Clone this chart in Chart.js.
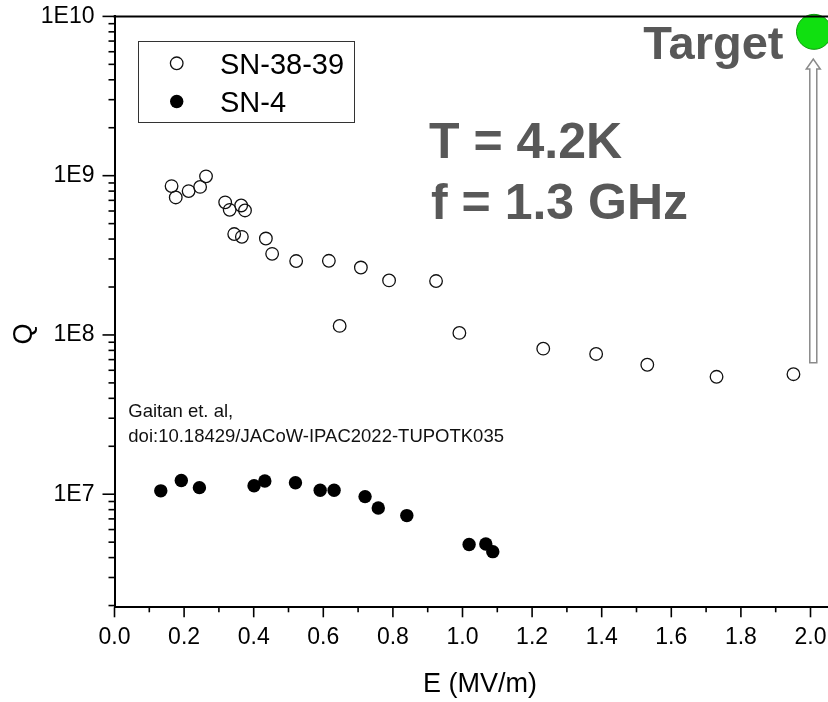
<!DOCTYPE html>
<html><head><meta charset="utf-8">
<script src="https://cdn.jsdelivr.net/npm/chart.js@4.4.1/dist/chart.umd.min.js"></script>
<style>html,body{margin:0;padding:0;overflow:hidden;background:#fff;width:828px;height:702px}canvas{display:block}</style>
</head><body>
<canvas id="c" width="850" height="702" style="width:850px;height:702px"></canvas>
<script>
const seriesNames = ['SN-38-39', 'SN-4'];
const snA_E = [0.164,0.176,0.213,0.246,0.263,0.318,0.331,0.364,0.375,0.344,0.366,0.435,0.453,0.522,0.616,0.647,0.708,0.789,0.924,0.991,1.232,1.384,1.531,1.730,1.951];
const snA_Q = [8.6e8,7.3e8,8.0e8,8.5e8,9.9e8,6.8e8,6.1e8,6.5e8,6.05e8,4.3e8,4.13e8,4.03e8,3.23e8,2.91e8,2.92e8,1.14e8,2.65e8,2.2e8,2.18e8,1.03e8,8.2e7,7.6e7,6.5e7,5.46e7,5.67e7];
const snB_E = [0.133,0.192,0.244,0.401,0.432,0.520,0.591,0.631,0.720,0.758,0.840,1.019,1.067,1.087];
const snB_Q = [1.05e7,1.22e7,1.10e7,1.13e7,1.21e7,1.18e7,1.06e7,1.06e7,9.66e6,8.2e6,7.34e6,4.83e6,4.87e6,4.36e6];
const targetLabel = 'Target';
const targetE = [2.01];
const targetQ = [8.0e9];
const arrowE = [2.008, 2.008];
const arrowQ = [6.7e7, 5.4e9];
const yMajorValues = [1e7, 1e8, 1e9, 1e10];
const yTickLabels = ['1E7', '1E8', '1E9', '1E10'];
const conditionLines = ['T = 4.2K', 'f = 1.3 GHz'];
const citationLines = ['Gaitan et. al,', 'doi:10.18429/JACoW-IPAC2022-TUPOTK035'];
const xTitle = 'E (MV/m)';
const yTitle = 'Q';

const FONT = "'Liberation Sans', Arial, Helvetica, sans-serif";
Chart.defaults.font.family = FONT;
Chart.defaults.color = '#000';

const toPts = (xs, ys) => xs.map((v, i) => ({x: v, y: ys[i]}));
const noPad = s => { s.paddingTop = 0; s.paddingBottom = 0; s.paddingLeft = 0; s.paddingRight = 0; };

const decor = {
  id: 'decor',
  afterDatasetsDraw(chart) {
    const {ctx, scales: {x, y}} = chart;
    ctx.save();
    const ax = x.getPixelForValue(arrowE[0]);
    const yb = y.getPixelForValue(arrowQ[0]);
    const yt = y.getPixelForValue(arrowQ[1]);
    const sw = 3.5, hw = 7, hh = 10;
    ctx.beginPath();
    ctx.moveTo(ax - sw, yb);
    ctx.lineTo(ax - sw, yt + hh);
    ctx.lineTo(ax - hw, yt + hh);
    ctx.lineTo(ax, yt);
    ctx.lineTo(ax + hw, yt + hh);
    ctx.lineTo(ax + sw, yt + hh);
    ctx.lineTo(ax + sw, yb);
    ctx.closePath();
    ctx.fillStyle = '#fff';
    ctx.fill();
    ctx.strokeStyle = '#8a8a8a';
    ctx.lineWidth = 1.5;
    ctx.stroke();
    ctx.restore();
  },
  afterDraw(chart) {
    const {ctx, chartArea: ca, scales: {x, y}} = chart;
    ctx.save();
    ctx.strokeStyle = '#000';
    ctx.lineWidth = 2;
    ctx.beginPath();
    ctx.moveTo(ca.left - 1, ca.top);
    ctx.lineTo(ca.right, ca.top);
    ctx.stroke();
    ctx.lineWidth = 1.6;
    x.ticks.forEach(t => {
      const px = x.getPixelForValue(t.value);
      const major = Math.round(t.value * 10) % 2 === 0;
      ctx.beginPath();
      ctx.moveTo(px, ca.bottom);
      ctx.lineTo(px, ca.bottom + (major ? 10 : 5));
      ctx.stroke();
    });
    y.ticks.forEach(t => {
      const e = Math.floor(Math.log10(t.value) + 1e-9);
      const sig = t.value / Math.pow(10, e);
      if (Math.abs(sig - Math.round(sig)) > 1e-6) return;
      const py = y.getPixelForValue(t.value);
      const major = Math.round(sig) === 1;
      ctx.beginPath();
      ctx.moveTo(ca.left, py);
      ctx.lineTo(ca.left - (major ? 12 : 6), py);
      ctx.stroke();
    });
    ctx.save();
    ctx.translate(25, 334);
    ctx.rotate(-Math.PI / 2);
    ctx.font = '27px ' + FONT;
    ctx.fillStyle = '#000';
    ctx.textAlign = 'center';
    ctx.textBaseline = 'middle';
    ctx.fillText(yTitle, 0, 0);
    ctx.restore();
    const lx = 138.5, ly = 41.5, lw = 216, lh = 81;
    ctx.fillStyle = '#fff';
    ctx.fillRect(lx, ly, lw, lh);
    ctx.strokeStyle = '#333';
    ctx.lineWidth = 1;
    ctx.strokeRect(lx, ly, lw, lh);
    ctx.font = '29px ' + FONT;
    ctx.textAlign = 'left';
    ctx.textBaseline = 'alphabetic';
    const rows = [63.3, 101.5];
    [0, 1].forEach(i => {
      const ds = chart.data.datasets[i];
      ctx.beginPath();
      ctx.arc(176.7, rows[i], ds.pointRadius, 0, Math.PI * 2);
      ctx.fillStyle = ds.pointBackgroundColor;
      ctx.fill();
      if (ds.pointBorderWidth > 0) {
        ctx.lineWidth = ds.pointBorderWidth;
        ctx.strokeStyle = ds.pointBorderColor;
        ctx.stroke();
      }
      ctx.fillStyle = '#000';
      ctx.fillText(ds.label, 220, rows[i] + 10.2);
    });
    ctx.fillStyle = '#585858';
    ctx.font = 'bold 50px ' + FONT;
    ctx.fillText(conditionLines[0], 429, 157.5);
    ctx.fillText(conditionLines[1], 431, 218.5);
    ctx.font = 'bold 47px ' + FONT;
    ctx.textAlign = 'right';
    ctx.fillText(targetLabel, 783.5, 59.3);
    ctx.textAlign = 'left';
    ctx.fillStyle = '#111';
    ctx.font = '18.5px ' + FONT;
    ctx.fillText(citationLines[0], 128.3, 417.3);
    ctx.fillText(citationLines[1], 128.3, 441.5);
    ctx.restore();
  }
};

new Chart(document.getElementById('c'), {
  type: 'scatter',
  data: {
    datasets: [
      {label: seriesNames[0], data: toPts(snA_E, snA_Q), pointStyle: 'circle', pointRadius: 6.3,
       pointBackgroundColor: 'rgba(255,255,255,0)', pointBorderColor: '#111', pointBorderWidth: 1.3},
      {label: seriesNames[1], data: toPts(snB_E, snB_Q), pointStyle: 'circle', pointRadius: 6.7,
       pointBackgroundColor: '#000', pointBorderColor: '#000', pointBorderWidth: 0},
      {label: targetLabel, data: toPts(targetE, targetQ), pointStyle: 'circle', pointRadius: 17.5,
       pointBackgroundColor: '#10e010', pointBorderColor: '#0a9a0a', pointBorderWidth: 1, clip: false}
    ]
  },
  options: {
    responsive: false,
    animation: false,
    devicePixelRatio: 1,
    layout: {autoPadding: false, padding: {left: 0, top: 16.4, right: 4.7, bottom: 0}},
    plugins: {legend: {display: false}, tooltip: {enabled: false}},
    scales: {
      x: {
        type: 'linear', min: 0, max: 2.1,
        afterFit(s) { s.height = 94.7; noPad(s); },
        border: {display: true, color: '#000', width: 2},
        grid: {display: true, drawOnChartArea: false, drawTicks: true, tickLength: 10, tickColor: 'rgba(0,0,0,0)'},
        ticks: {stepSize: 0.1, autoSkip: false, maxRotation: 0, padding: 7, font: {size: 23}, color: '#000',
          callback: v => (Math.round(v * 10) % 2 === 0 ? v.toFixed(1) : '')},
        title: {display: true, text: xTitle, font: {size: 27}, color: '#000', padding: {top: 0, bottom: 1}}
      },
      y: {
        type: 'logarithmic', min: 1.95e6, max: 1e10,
        afterFit(s) { s.width = 114.5; noPad(s); },
        border: {display: true, color: '#000', width: 2},
        grid: {display: true, drawOnChartArea: false, drawTicks: true, tickLength: 12, tickColor: 'rgba(0,0,0,0)'},
        ticks: {autoSkip: false, padding: 8, font: {size: 23}, color: '#000',
          callback: v => {
            const i = yMajorValues.findIndex(m => Math.abs(m - v) / m < 1e-6);
            return i >= 0 ? yTickLabels[i] : '';
          }},
        title: {display: false}
      }
    }
  },
  plugins: [decor]
});
</script>
</body></html>
